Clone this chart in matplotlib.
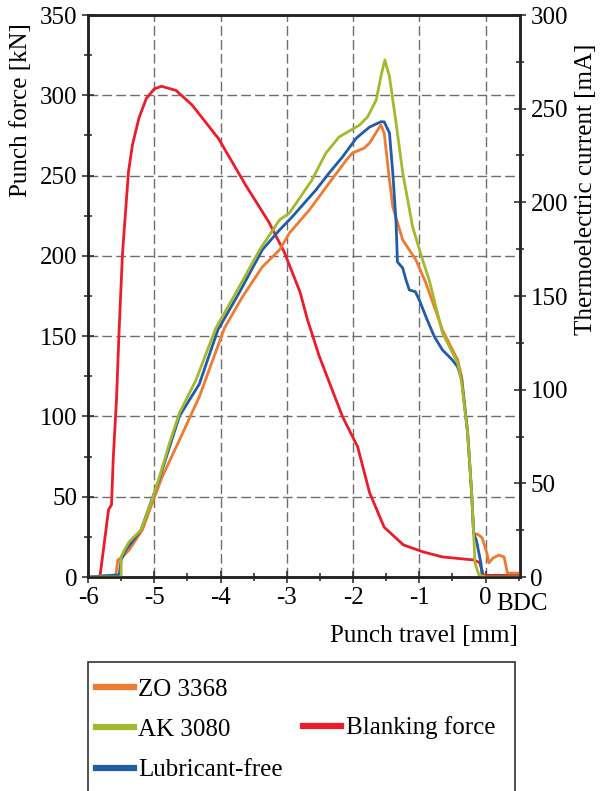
import matplotlib
matplotlib.use("Agg")
import matplotlib.pyplot as plt
from matplotlib.patches import Rectangle
from matplotlib.lines import Line2D
from matplotlib.ticker import MultipleLocator

plt.rcParams["font.family"] = ["Liberation Serif", "DejaVu Serif"]
plt.rcParams["font.size"] = 18

# punch travel [mm] / thermoelectric current [mA]
zo_x = [-6.0, -5.58, -5.55, -5.48, -5.38, -5.18, -5.03, -4.88, -4.62, -4.32, -3.94, -3.67, -3.37,
        -3.11, -2.96, -2.66, -2.36, -2.10, -2.01, -1.83, -1.75, -1.58, -1.53, -1.45, -1.40, -1.25,
        -1.05, -0.90, -0.65, -0.42, -0.36, -0.27, -0.21, -0.18, -0.10, -0.05, 0.02, 0.05, 0.11,
        0.20, 0.28, 0.33, 0.52]
zo_y = [0, 1.1, 9.1, 10.8, 14.4, 25.1, 39.5, 53.5, 73.1, 96.2, 132.9, 149.5, 165.5,
        174.6, 183.6, 195.9, 210.3, 222.6, 226.3, 229.0, 231.7, 241.3, 237.0, 211.9, 197.5, 179.9,
        169.2, 156.9, 131.9, 115.8, 106.8, 76.9, 44.8, 23.5, 22.4, 20.8, 12.8, 7.5, 10.1,
        11.7, 10.7, 2.1, 2.1]

ak_x = [-6.0, -5.50, -5.50, -5.45, -5.38, -5.20, -5.05, -4.92, -4.77, -4.62, -4.37, -4.07, -3.77,
        -3.41, -3.11, -2.96, -2.62, -2.41, -2.21, -1.90, -1.78, -1.65, -1.58, -1.52, -1.45, -1.35,
        -1.25, -1.10, -0.95, -0.85, -0.65, -0.42, -0.36, -0.27, -0.21, -0.18, -0.16, -0.10, 0.0, 0.52]
ak_y = [0, 0, 10.8, 14.4, 18.8, 25.1, 39.5, 53.5, 71.5, 87.5, 105.2, 132.9, 151.6,
        174.6, 190.6, 194.3, 211.9, 226.3, 234.9, 241.3, 245.6, 254.7, 267.1, 276.0, 267.1, 242.3,
        215.7, 186.8, 169.2, 158.5, 130.3, 114.2, 103.6, 76.9, 44.8, 23.5, 7.5, 1.1, 0, 0]

lf_x = [-6.0, -5.53, -5.50, -5.43, -5.20, -4.92, -4.62, -4.32, -4.04, -3.72, -3.37, -3.11, -2.92,
        -2.56, -2.36, -2.16, -1.95, -1.75, -1.58, -1.53, -1.45, -1.40, -1.35, -1.33, -1.25, -1.20,
        -1.15, -1.06, -1.00, -0.94, -0.88, -0.77, -0.65, -0.50, -0.42, -0.36, -0.27, -0.21, -0.18,
        -0.14, -0.07, -0.05, 0.52]
lf_y = [0, 1.1, 9.1, 14.4, 25.1, 52.8, 85.9, 103.0, 131.9, 151.6, 174.6, 185.2, 192.2,
        206.6, 215.7, 224.2, 234.3, 240.2, 243.0, 243.0, 237.0, 215.7, 189.0, 168.2, 164.9, 158.5,
        153.2, 152.3, 147.9, 142.5, 137.2, 128.1, 121.2, 115.8, 112.1, 105.2, 76.9, 44.8, 23.5,
        19.8, 7.5, 0, 0]

# punch travel [mm] / blanking force [kN]
bf_x = [-6.0, -5.82, -5.69, -5.645, -5.62, -5.57, -5.53, -5.48, -5.39, -5.33, -5.23, -5.12, -5.0,
        -4.89, -4.67, -4.43, -4.03, -3.62, -3.27, -3.04, -2.80, -2.69, -2.51, -2.16, -1.93, -1.75,
        -1.53, -1.24, -0.94, -0.65, -0.18, -0.09, -0.03, 0.52]
bf_y = [0, 0, 41.9, 45.0, 73.0, 110.6, 154.0, 201.0, 252.0, 269.0, 286.0, 298.0, 304.0,
        305.6, 303.0, 294.0, 273.0, 244.0, 221.0, 202.5, 177.5, 160.6, 137.5, 100.0, 81.0, 52.5,
        31.0, 20.0, 15.6, 12.5, 10.6, 9.0, 1.0, 1.0]

c_zo = "#ee7b30"
c_ak = "#a4b92b"
c_lf = "#1f5caa"
c_bf = "#ec1c2a"

fig = plt.figure(figsize=(6.04, 7.91), dpi=100)
ax = fig.add_axes([88 / 604, 1 - 577 / 791, 432 / 604, 562 / 791])
ax2 = ax.twinx()

ax.plot(bf_x, bf_y, color=c_bf, lw=2.0)
ax2.plot(zo_x, zo_y, color=c_zo, lw=2.0)
ax2.plot(lf_x, lf_y, color=c_lf, lw=2.0)
ax2.plot(ak_x, ak_y, color=c_ak, lw=2.0)

ax.set_xlim(-6, 0.52)
ax.set_ylim(0, 350)
ax2.set_ylim(0, 300)
ax.xaxis.set_major_locator(MultipleLocator(1))
ax.xaxis.set_minor_locator(MultipleLocator(0.5))
ax.yaxis.set_major_locator(MultipleLocator(50))
ax.yaxis.set_minor_locator(MultipleLocator(25))
ax2.yaxis.set_major_locator(MultipleLocator(50))
ax2.yaxis.set_minor_locator(MultipleLocator(25))

ax.grid(True, which="major", color="#6e6e6e", ls=(0, (7, 3)), lw=1.0)
for a in (ax, ax2):
    a.tick_params(which="major", direction="inout", length=9, width=1.2, color="#333333")
    a.tick_params(which="minor", direction="inout", length=6, width=1.2, color="#333333")
    for s in a.spines.values():
        s.set_linewidth(1.8)
        s.set_color("#222222")
ax.tick_params(axis="y", pad=3)
ax.tick_params(axis="x", pad=3)
ax2.tick_params(axis="y", pad=3)

ax.set_xticks([-6, -5, -4, -3, -2, -1, 0])
ax.set_xticklabels(["-6", "-5", "-4", "-3", "-2", "-1", "0"])
ax.text(0.16, -0.028, "BDC", transform=ax.get_xaxis_transform(), ha="left", va="top")

ax.set_ylabel("Punch force [kN]")
ax.yaxis.set_label_coords(-0.13, 0.83)
ax2.set_ylabel("Thermoelectric current [mA]")
ax2.yaxis.set_label_coords(1.127, 0.69)
ax.set_xlabel("Punch travel [mm]")
ax.xaxis.set_label_coords(0.995, -0.085)
ax.xaxis.label.set_ha("right")

# legend box
fig.patches.append(Rectangle((88 / 604, -0.02), 427 / 604, (791 - 662) / 791 + 0.02,
                             transform=fig.transFigure, fill=False, ec="#333333", lw=1.2))
h1 = [Line2D([], [], color=c_zo, lw=4.5), Line2D([], [], color=c_ak, lw=4.5),
      Line2D([], [], color=c_lf, lw=4.5)]
fig.legend(h1, ["ZO 3368", "AK 3080", "Lubricant-free"], loc="upper left",
           bbox_to_anchor=(96 / 604, 1 - 678 / 791), frameon=False, handlelength=1.5,
           handletextpad=0.2, labelspacing=0.72, borderpad=0, borderaxespad=0)
fig.legend([Line2D([], [], color=c_bf, lw=4.5)], ["Blanking force"], loc="center left",
           bbox_to_anchor=(303 / 604, 1 - 728 / 791), frameon=False, handlelength=1.5,
           handletextpad=0.2, borderpad=0, borderaxespad=0)

fig.savefig("out.png", dpi=100)
